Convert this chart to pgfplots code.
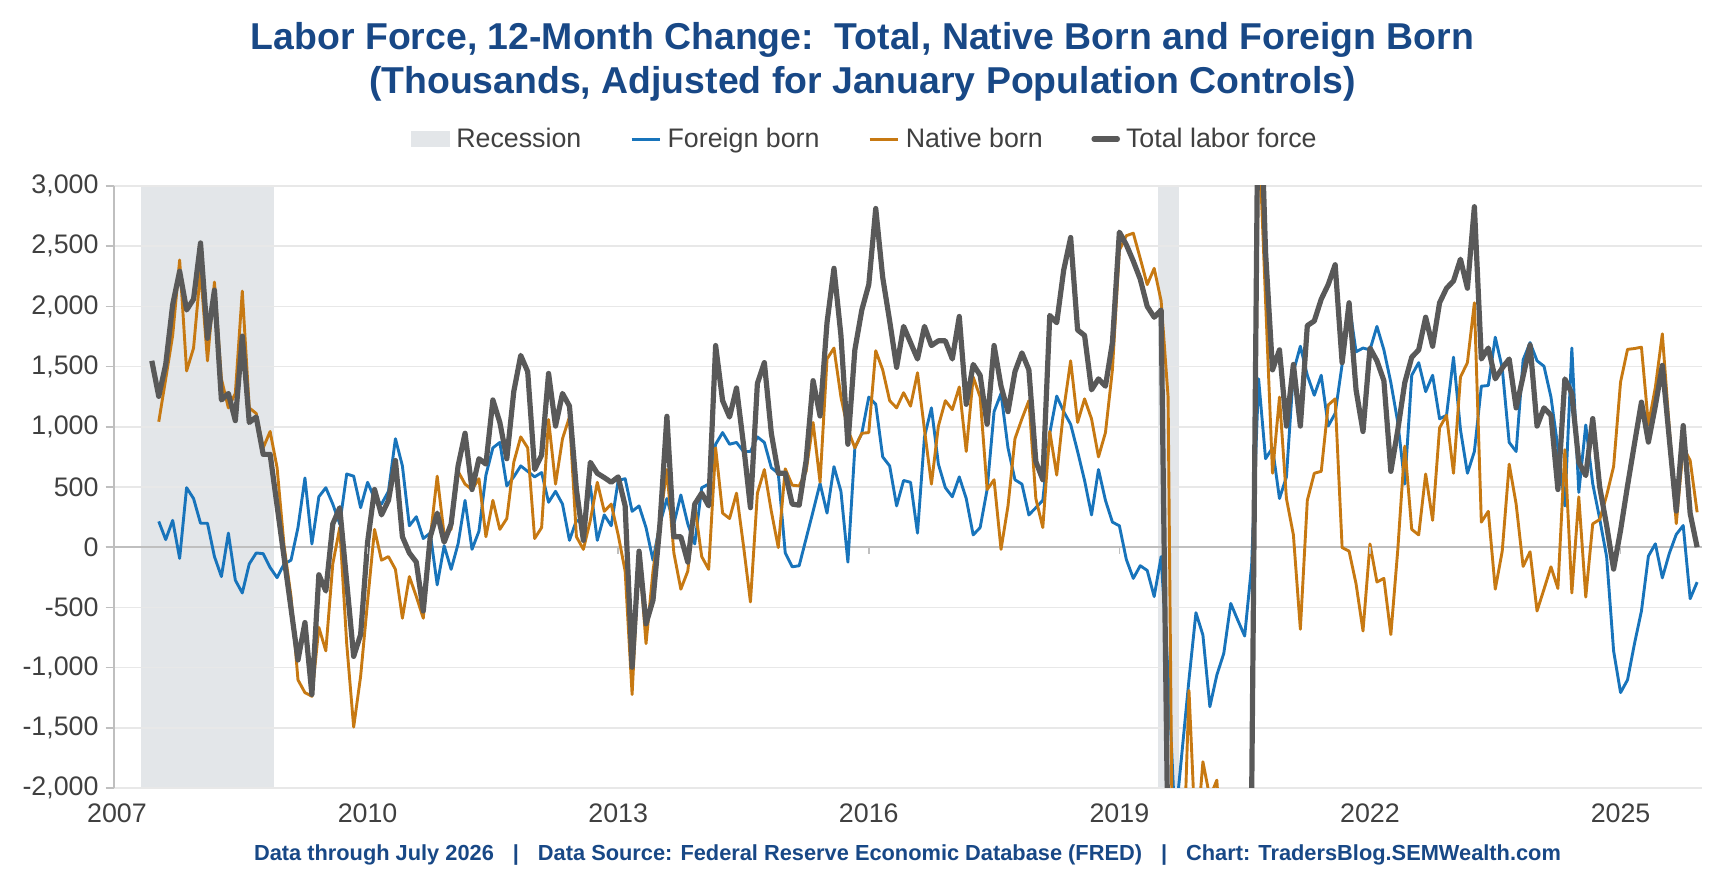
\documentclass[border=0pt]{standalone}
\usepackage{pgfplots}
\pgfplotsset{compat=1.18}
\usepackage{pgfplotstable}
\usepackage{fontspec}
\setmainfont{Liberation Sans}
\definecolor{titleblue}{RGB}{24,72,134}
\definecolor{fbblue}{RGB}{24,116,187}
\definecolor{nborange}{RGB}{199,121,18}
\definecolor{totgray}{RGB}{89,89,89}
\definecolor{recgray}{RGB}{227,230,233}
\definecolor{gridgray}{RGB}{232,232,232}
\definecolor{axgray}{RGB}{191,191,191}
\definecolor{labgray}{RGB}{64,64,64}

% month index m: 0 = first month of the series
\pgfplotstableread{
m v
0 1548
1 1253
2 1518
3 2015
4 2292
5 1970
6 2060
7 2527
8 1735
9 2135
10 1223
11 1277
12 1051
13 1753
14 1036
15 1081
16 771
17 771
18 343
19 -84
20 -509
21 -937
22 -626
23 -1223
24 -229
25 -364
26 193
27 328
28 -289
29 -907
30 -726
31 42
32 479
33 268
34 389
35 720
36 87
37 -48
38 -124
39 -530
40 87
41 283
42 42
43 193
44 675
45 946
46 479
47 735
48 690
49 1223
50 1036
51 735
52 1292
53 1593
54 1458
55 645
56 765
57 1443
58 1006
59 1277
60 1172
61 479
62 57
63 705
64 614
65 578
66 539
67 584
68 343
69 -997
70 -33
71 -636
72 -440
73 193
74 1087
75 87
76 87
77 -124
78 358
79 449
80 343
81 1675
82 1217
83 1081
84 1322
85 855
86 328
87 1361
88 1533
89 946
90 614
91 614
92 358
93 349
94 720
95 1383
96 1090
97 1864
98 2316
99 1759
100 855
101 1639
102 1970
103 2181
104 2813
105 2241
106 1879
107 1494
108 1834
109 1699
110 1563
111 1834
112 1675
113 1714
114 1714
115 1563
116 1916
117 1187
118 1518
119 1428
120 1021
121 1675
122 1337
123 1126
124 1458
125 1614
126 1473
127 711
128 560
129 1925
130 1864
131 2301
132 2572
133 1804
134 1759
135 1307
136 1398
137 1337
138 1699
139 2617
140 2512
141 2376
142 2226
143 2000
144 1910
145 1970
146 -2600
147 -7000
148 -6800
149 -5000
150 -4200
151 -4000
152 -4300
153 -3900
154 -3600
155 -3300
156 -3000
157 -2800
158 -2100
159 4300
160 2450
161 1473
162 1639
163 1006
164 1518
165 1006
166 1840
167 1879
168 2060
169 2181
170 2346
171 1533
172 2030
173 1307
174 961
175 1654
176 1548
177 1383
178 630
179 976
180 1367
181 1578
182 1639
183 1910
184 1669
185 2030
186 2151
187 2211
188 2392
189 2151
190 2828
191 1563
192 1654
193 1398
194 1488
195 1563
196 1157
197 1420
198 1680
199 1006
200 1157
201 1096
202 479
203 1398
204 1277
205 705
206 595
207 1068
208 500
209 180
210 -182
211 140
212 510
213 860
214 1205
215 873
216 1175
217 1510
218 900
219 300
220 1010
221 280
222 0
}\totaltab

\pgfplotstableread{
m v
1 1042
2 1398
3 1759
4 2385
5 1464
6 1654
7 2300
8 1548
9 2202
10 1398
11 1157
12 1277
13 2127
14 1157
15 1111
16 825
17 961
18 660
19 12
20 -410
21 -1102
22 -1208
23 -1238
24 -666
25 -861
26 -139
27 163
28 -801
29 -1494
30 -1072
31 -450
32 148
33 -108
34 -78
35 -184
36 -590
37 -244
38 -410
39 -590
40 72
41 590
42 102
43 150
44 630
45 524
46 479
47 569
48 87
49 389
50 148
51 238
52 705
53 916
54 825
55 72
56 163
57 1060
58 524
59 901
60 1081
61 87
62 -18
63 223
64 539
65 298
66 358
67 102
68 -199
69 -1223
70 -48
71 -801
72 -199
73 223
74 645
75 -48
76 -349
77 -199
78 343
79 -78
80 -184
81 825
82 283
83 238
84 449
85 12
86 -455
87 449
88 645
89 298
90 -3
91 651
92 515
93 509
94 630
95 1036
96 540
97 1563
98 1654
99 1247
100 976
101 825
102 946
103 952
104 1632
105 1473
106 1217
107 1157
108 1283
109 1172
110 1449
111 976
112 524
113 1006
114 1217
115 1142
116 1331
117 795
118 1413
119 1247
120 479
121 560
122 -18
123 343
124 901
125 1066
126 1217
127 404
128 163
129 961
130 599
131 1140
132 1548
133 1036
134 1232
135 1066
136 750
137 952
138 1473
139 2467
140 2587
141 2608
142 2398
143 2181
144 2316
145 2045
146 1247
147 -5000
148 -3000
149 -1190
150 -2500
151 -1782
152 -2080
153 -1935
154 -2800
155 -3000
156 -2800
157 -2600
158 -2200
159 3500
160 2050
161 614
162 1247
163 404
164 102
165 -681
166 389
167 614
168 630
169 1181
170 1232
171 -3
172 -33
173 -304
174 -696
175 27
176 -289
177 -259
178 -726
179 -18
180 840
181 148
182 102
183 608
184 223
185 991
186 1096
187 614
188 1413
189 1533
190 2030
191 208
192 298
193 -349
194 -33
195 690
196 358
197 -160
198 -38
199 -530
200 -349
201 -163
202 -343
203 810
204 -380
205 418
206 -414
207 194
208 230
209 430
210 670
211 1372
212 1643
213 1650
214 1661
215 1018
216 1328
217 1772
218 990
219 195
220 830
221 720
222 290
}\nativetab

\pgfplotstableread{
m v
1 214
2 63
3 223
4 -93
5 494
6 404
7 199
8 199
9 -78
10 -244
11 117
12 -274
13 -380
14 -139
15 -48
16 -54
17 -169
18 -253
19 -139
20 -108
21 163
22 575
23 27
24 419
25 494
26 358
27 193
28 608
29 590
30 328
31 539
32 404
33 358
34 464
35 901
36 675
37 178
38 253
39 72
40 117
41 -313
42 12
43 -184
44 27
45 389
46 -18
47 133
48 599
49 825
50 870
51 509
52 584
53 675
54 630
55 584
56 620
57 373
58 464
59 358
60 57
61 223
62 200
63 509
64 57
65 268
66 178
67 554
68 569
69 298
70 343
71 163
72 -108
73 193
74 404
75 193
76 434
77 193
78 27
79 494
80 524
81 855
82 952
83 855
84 870
85 795
86 795
87 916
88 870
89 660
90 614
91 -48
92 -163
93 -154
94 72
95 298
96 530
97 283
98 669
99 464
100 -124
101 825
102 946
103 1247
104 1187
105 750
106 675
107 343
108 554
109 539
110 117
111 916
112 1157
113 690
114 494
115 419
116 584
117 404
118 102
119 163
120 479
121 1126
122 1277
123 825
124 560
125 524
126 268
127 328
128 389
129 946
130 1255
131 1126
132 1021
133 795
134 554
135 268
136 645
137 389
138 208
139 178
140 -102
141 -259
142 -154
143 -193
144 -410
145 -78
146 -1050
147 -2300
148 -1700
149 -1100
150 -544
151 -730
152 -1325
153 -1062
154 -882
155 -467
156 -605
157 -738
158 -150
159 1398
160 735
161 825
162 404
163 584
164 1458
165 1669
166 1428
167 1262
168 1428
169 1006
170 1111
171 1518
172 2030
173 1623
174 1654
175 1639
176 1834
177 1639
178 1367
179 1036
180 524
181 1428
182 1533
183 1292
184 1428
185 1066
186 1096
187 1578
188 976
189 614
190 795
191 1337
192 1343
193 1744
194 1488
195 870
196 795
197 1555
198 1699
199 1548
200 1503
201 1247
202 825
203 343
204 1654
205 455
206 1015
207 527
208 236
209 -80
210 -861
211 -1208
212 -1102
213 -801
214 -530
215 -74
216 28
217 -255
218 -52
219 106
220 180
221 -428
222 -290
}\foreigntab

\begin{document}
\begin{tikzpicture}
\begin{axis}[
  set layers,
  at={(57pt,52pt)}, anchor=south west,
  scale only axis, width=794pt, height=301pt,
  xmin=-5.43, xmax=222.7, ymin=-2000, ymax=3000,
  axis x line*=bottom, axis y line*=left,
  x axis line style={draw=none},
  y axis line style={draw=axgray, line width=0.75pt, -},
  xtick={-5,31,67,103,139,175,211},
  xticklabels={2007,2010,2013,2016,2019,2022,2025},
  ytick={-2000,-1500,...,3000},
  x tick style={draw=none},
  y tick style={draw=axgray, line width=0.75pt},
  tick align=outside,
  major tick length=4.2pt,
  ymajorgrids,
  grid style={draw=gridgray, line width=0.75pt},
  extra y ticks={0},
  extra y tick labels={},
  extra y tick style={grid style={draw=axgray, line width=0.9pt}},
  tick label style={font=\fontsize{13.4}{16}\selectfont, text=labgray},
  /pgf/number format/assume math mode=true,
  yticklabel style={/pgf/number format/1000 sep={,}},
  legend columns=4,
  legend style={
    at={(0.4736,1.078)}, anchor=center,
    draw=none, fill=none,
    font=\fontsize{13.4}{16}\selectfont, text=labgray,
    inner sep=0pt,
    /tikz/every even column/.append style={column sep=22.3pt},
    /tikz/every odd column/.append style={column sep=1pt},
  },
  no markers,
]
\addplot[fill=recgray, draw=none, on layer=axis background,
  legend image code/.code={\fill[recgray] (0pt,-3.8pt) rectangle (19.4pt,3.8pt);}]
  coordinates {(-1.5,-2000) (-1.5,3000) (17.5,3000) (17.5,-2000)};
\addlegendentry{Recession}
\addplot[fill=recgray, draw=none, on layer=axis background, forget plot]
  coordinates {(144.5,-2000) (144.5,3000) (147.5,3000) (147.5,-2000)};
\addplot[fbblue, line width=1.45pt, line join=round,
  legend image code/.code={\draw[fbblue, line width=1.5pt] (0pt,0pt) -- (14.3pt,0pt);}]
  table[x=m, y=v] {\foreigntab};
\addlegendentry{Foreign born}
\addplot[nborange, line width=1.45pt, line join=round,
  legend image code/.code={\draw[nborange, line width=1.5pt] (0pt,0pt) -- (14.3pt,0pt);}]
  table[x=m, y=v] {\nativetab};
\addlegendentry{Native born}
\addplot[totgray, line width=2.6pt, line join=round,
  legend image code/.code={\draw[totgray, line width=2.6pt, line cap=round] (1.3pt,0pt) -- (13pt,0pt);}]
  table[x=m, y=v] {\totaltab};
\addlegendentry{Total labor force}
\pgfplotsinvokeforeach{31,67,103,139,175,211}{
  \draw[axgray, line width=0.75pt] (axis cs:#1,0) -- ([yshift=-3.5pt]axis cs:#1,0);
}
\end{axis}
\node[font=\fontsize{18.7}{22}\selectfont\bfseries, text=titleblue, anchor=center]
  at (431.25pt,426.2pt) {Labor Force, 12-Month Change:\ \ Total, Native Born and Foreign Born};
\node[font=\fontsize{18.7}{22}\selectfont\bfseries, text=titleblue, anchor=center]
  at (431.25pt,404pt) {(Thousands, Adjusted for January Population Controls)};
\node[font=\fontsize{10.9}{13}\selectfont\bfseries, text=titleblue, anchor=center]
  at (453.75pt,18.5pt) {Data through July 2026\hspace{9.5pt}|\hspace{9.5pt}Data Source: Federal Reserve Economic Database (FRED)\hspace{9.5pt}|\hspace{9.5pt}Chart: TradersBlog.SEMWealth.com};
\pgfresetboundingbox
\path[use as bounding box] (0,0) rectangle (862.5pt,446pt);
\end{tikzpicture}
\end{document}
